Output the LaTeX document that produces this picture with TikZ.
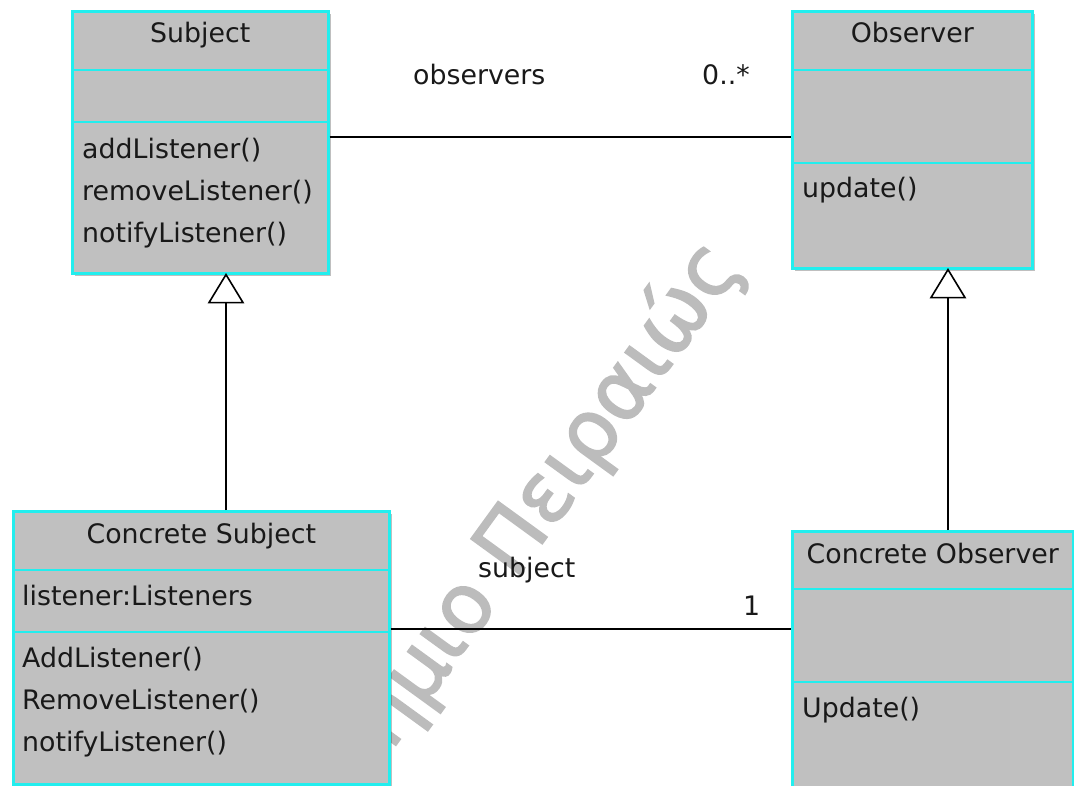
\documentclass[tikz,border=0pt]{standalone}
\usepackage{fontspec}
\setmainfont{DejaVu Sans}
\newfontfamily\markfont[FakeBold=2]{DejaVu Sans}
\usetikzlibrary{calc,shadows}

\definecolor{umlfill}{RGB}{192,192,192}
\definecolor{umledge}{RGB}{34,238,238}
\definecolor{markgray}{RGB}{188,188,188}

\begin{document}
\begin{tikzpicture}[x=1pt,y=-1pt,
  classbox/.style={draw=umledge, line width=2.6pt, fill=umlfill, anchor=north west,
    inner sep=0pt, drop shadow={shadow xshift=2.5pt, shadow yshift=-2.5pt, fill=black, opacity=0.25}},
  divider/.style={draw=umledge, line width=2.6pt},
  umltext/.style={font=\fontsize{26.8}{32}\selectfont, inner sep=0pt, text=black!90},
  titletext/.style={umltext, anchor=base},
  membertext/.style={umltext, anchor=base west},
  link/.style={draw=black, line width=1.8pt},
  generalization/.style={draw=black, line width=1.6pt, fill=white, line join=miter},
  watermark/.style={font=\markfont\fontsize{83}{83}\selectfont, text=markgray, inner sep=0pt}
]
\useasboundingbox (0,0) rectangle (1074,786);
\clip (0,0) rectangle (1074,786);

% watermark behind the diagram
\node[watermark, rotate=54, anchor=base east] (wm) at (744,266) {Πανεπιστήμιο Πειραιώς};

% Subject
\node[classbox, minimum width=256pt, minimum height=262pt] (subj) at (71,10) {};
\draw[divider] ([yshift=-60pt]subj.north west) -- ([yshift=-60pt]subj.north east);
\draw[divider] ([yshift=-112pt]subj.north west) -- ([yshift=-112pt]subj.north east);
\node[titletext] (subjname) at ([yshift=-33pt]subj.north) {Subject};
\node[membertext] (subjop1) at ([xshift=11pt,yshift=-149pt]subj.north west) {addListener()};
\node[membertext] (subjop2) at ([xshift=11pt,yshift=-191pt]subj.north west) {removeListener()};
\node[membertext] (subjop3) at ([xshift=11pt,yshift=-233pt]subj.north west) {notifyListener()};

% Observer
\node[classbox, minimum width=240pt, minimum height=257pt] (obs) at (791,10) {};
\draw[divider] ([yshift=-60pt]obs.north west) -- ([yshift=-60pt]obs.north east);
\draw[divider] ([yshift=-153pt]obs.north west) -- ([yshift=-153pt]obs.north east);
\node[titletext] (obsname) at ([yshift=-33pt]obs.north) {Observer};
\node[membertext] (obsop1) at ([xshift=11pt,yshift=-188pt]obs.north west) {update()};

% Concrete Subject
\node[classbox, minimum width=376pt, minimum height=273pt] (csubj) at (12,510) {};
\draw[divider] ([yshift=-60pt]csubj.north west) -- ([yshift=-60pt]csubj.north east);
\draw[divider] ([yshift=-122pt]csubj.north west) -- ([yshift=-122pt]csubj.north east);
\node[titletext] (csubjname) at ([yshift=-33pt]csubj.north) {Concrete Subject};
\node[membertext] (csubjattr) at ([xshift=10pt,yshift=-95pt]csubj.north west) {listener:Listeners};
\node[membertext] (csubjop1) at ([xshift=10pt,yshift=-157pt]csubj.north west) {AddListener()};
\node[membertext] (csubjop2) at ([xshift=10pt,yshift=-199pt]csubj.north west) {RemoveListener()};
\node[membertext] (csubjop3) at ([xshift=10pt,yshift=-241pt]csubj.north west) {notifyListener()};

% Concrete Observer
\node[classbox, minimum width=281pt, minimum height=300pt] (cobs) at (791,530) {};
\draw[divider] ([yshift=-59pt]cobs.north west) -- ([yshift=-59pt]cobs.north east);
\draw[divider] ([yshift=-152pt]cobs.north west) -- ([yshift=-152pt]cobs.north east);
\node[titletext] (cobsname) at ([yshift=-33pt]cobs.north) {Concrete Observer};
\node[membertext] (cobsop1) at ([xshift=11pt,yshift=-187pt]cobs.north west) {Update()};

% associations
\coordinate (assocTop) at (0,137);
\coordinate (assocLow) at (0,629);
\draw[link] (subj.east |- assocTop) -- (obs.west |- assocTop);
\draw[link] (csubj.east |- assocLow) -- (cobs.west |- assocLow);
\node[umltext, anchor=base west] (lblobservers) at (413,85) {observers};
\node[umltext, anchor=base west] (lblmany) at (702,85) {0..*};
\node[umltext, anchor=base west] (lblsubject) at (478,577) {subject};
\node[umltext, anchor=base west] (lblone) at (743,615) {1};

% generalizations
\coordinate (tipS) at (subj.south -| 226,0);
\coordinate (tipO) at (obs.south -| 948,0);
\draw[link] (csubj.north -| tipS) -- ([yshift=-27pt]tipS);
\draw[generalization] (tipS) -- ++(-17,28) -- ++(34,0) -- cycle;
\draw[link] (cobs.north -| tipO) -- ([yshift=-27pt]tipO);
\draw[generalization] (tipO) -- ++(-17,28) -- ++(34,0) -- cycle;
\end{tikzpicture}
\end{document}
